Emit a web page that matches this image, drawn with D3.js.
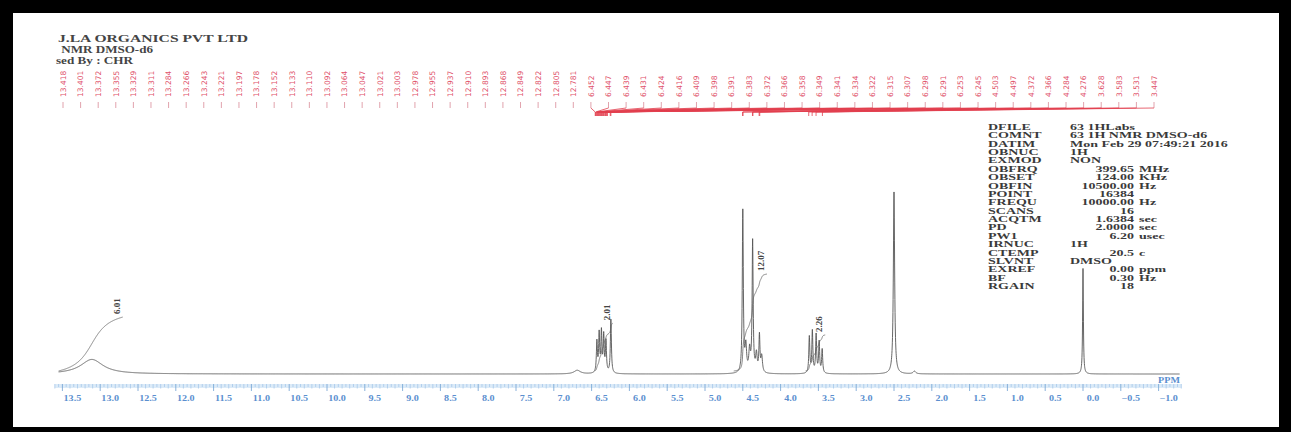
<!DOCTYPE html>
<html>
<head>
<meta charset="utf-8">
<script src="https://cdn.jsdelivr.net/npm/d3@7"></script>
<style>
  body { margin: 0; background: #000; }
  svg { display: block; }
</style>
</head>
<body>
<svg id="chart" width="1291" height="432"></svg>
<script>
// header printed on the scan
var headerLines = ["J.LA ORGANICS PVT LTD", " NMR DMSO-d6", "sed By : CHR"];

// peak list: shift (ppm), height (% of DMSO), half width (ppm)
var peakPpm    = [13.11, 6.69, 6.43, 6.40, 6.37, 6.34, 6.31, 6.245, 4.50, 4.46, 4.41, 4.37, 4.32, 4.28, 4.25, 3.62, 3.58, 3.53, 3.49, 3.45, 2.50, 2.23, 0.00];
var peakHeight = [8,     2,    17,   21,   22,   20,   17,   30,    89,   14,   12,   72,   10,   20,   9,    20,   23,   21,   17,   13,   100,  1.5,  58];
var peakWidth  = [0.18,  0.05, 0.008,0.008,0.008,0.008,0.008,0.008, 0.008,0.012,0.012,0.008,0.012,0.008,0.012,0.008,0.008,0.008,0.008,0.008,0.010,0.02, 0.006];

// integrated regions (from ppm, to ppm) and printed values
var integralFrom = [13.55, 6.46, 4.62, 3.67];
var integralTo   = [12.70, 6.22, 4.18, 3.41];
var integralText = ["6.01", "2.01", "12.07", "2.26"];

// picked peak labels along the top
var peakLabels = [
  "13.418","13.401","13.372","13.355","13.329","13.311","13.284","13.266","13.243","13.221",
  "13.197","13.178","13.152","13.133","13.110","13.092","13.064","13.047","13.021","13.003",
  "12.978","12.955","12.937","12.910","12.893","12.868","12.849","12.822","12.805","12.781",
  "6.452","6.447","6.439","6.431","6.424","6.416","6.409","6.398","6.391","6.383",
  "6.372","6.366","6.358","6.349","6.341","6.334","6.322","6.315","6.307","6.298",
  "6.291","6.253","6.245",
  "4.503","4.497","4.372","4.366","4.284","4.276",
  "3.628","3.583","3.531","3.447"
];

// acquisition parameter block
var paramNames  = ["DFILE","COMNT","DATIM","OBNUC","EXMOD","OBFRQ","OBSET","OBFIN","POINT","FREQU",
                   "SCANS","ACQTM","PD","PW1","IRNUC","CTEMP","SLVNT","EXREF","BF","RGAIN"];
var paramValues = ["63 1HLabs","63 1H NMR DMSO-d6","Mon Feb 29 07:49:21 2016","1H","NON","399.65","124.00","10500.00","16384","10000.00",
                   "16","1.6384","2.0000","6.20","1H","20.5","DMSO","0.00","0.30","18"];
var paramUnits  = ["","","","","","MHz","KHz","Hz","","Hz",
                   "","sec","sec","usec","","c","","ppm","Hz",""];

var W = 1291, H = 432;
var svg = d3.select("#chart");
var serif = "'Liberation Serif', 'DejaVu Serif', serif";
var stretch = 1.35;   // the scan is widened horizontally

// frame
svg.append("rect").attr("width", W).attr("height", H).attr("fill", "#000");
svg.append("rect").attr("x", 13).attr("y", 13).attr("width", 1266).attr("height", 414).attr("fill", "#fff");

var x = d3.scaleLinear().domain([13.5, -1.0]).range([62.4, 1158.6]);
var y = d3.scaleLinear().domain([0, 100]).range([374, 192]);

function intensity(p){
   var s = 0;
   for (var i = 0; i < peakPpm.length; i++){
      var w2 = peakWidth[i] * peakWidth[i];
      s += peakHeight[i] * w2 / ((p - peakPpm[i]) * (p - peakPpm[i]) + w2);
   }
   return s;
}

// header
var headerLen = [190, 95, 77];
var headerX = [58, 58, 56];
svg.selectAll("text.header")
   .data(headerLines)
   .enter()
   .append("text")
   .attr("class", "header")
   .attr("x", function(d, i){ return headerX[i]; })
   .attr("y", function(d, i){ return 42 + i * 11; })
   .attr("textLength", function(d, i){ return headerLen[i]; })
   .attr("lengthAdjust", "spacingAndGlyphs")
   .style("white-space", "pre")
   .attr("font-family", serif).attr("font-weight", "bold").attr("font-size", 9.5)
   .attr("fill", "#444")
   .text(function(d){ return d; });

// ruler axis
var ruler = svg.append("g");
ruler.append("rect")
   .attr("x", x(13.6)).attr("y", 384)
   .attr("width", x(-1.3) - x(13.6)).attr("height", 4)
   .attr("fill", "#dcebf8");
var tickIdx = d3.range(-26, 273);
ruler.selectAll("line")
   .data(tickIdx)
   .enter()
   .append("line")
   .attr("x1", function(d){ return x(d * 0.05); })
   .attr("x2", function(d){ return x(d * 0.05); })
   .attr("y1", 384)
   .attr("y2", function(d){ return d % 10 === 0 ? 391 : (d % 2 === 0 ? 388.5 : 387); })
   .attr("stroke", function(d){ return d % 10 === 0 ? "#6f9fd2" : "#a7c8ea"; })
   .attr("stroke-width", 0.8);
var fmt = d3.format(".1f");
ruler.selectAll("text")
   .data(d3.range(-2, 28).map(function(i){ return i * 0.5; }))
   .enter()
   .append("text")
   .attr("transform", function(d){ return "translate(" + (x(d) + 10) + ",401) scale(" + stretch + ",1)"; })
   .attr("text-anchor", "middle")
   .attr("font-family", serif).attr("font-weight", "bold").attr("font-size", 7.5)
   .attr("fill", "#5b8fcf")
   .text(function(d){ return fmt(d); });
ruler.append("text")
   .attr("transform", "translate(1180,383) scale(" + stretch + ",1)")
   .attr("text-anchor", "end")
   .attr("font-family", serif).attr("font-weight", "bold").attr("font-size", 7.5)
   .attr("fill", "#5b8fcf")
   .text("PPM");

// spectrum trace
var trace = d3.range(13.55, -1.28, -0.002).map(function(p){ return [p, intensity(p)]; });
svg.append("path")
   .datum(trace)
   .attr("d", d3.line().x(function(d){ return x(d[0]); }).y(function(d){ return y(d[1]); }))
   .attr("fill", "none")
   .attr("stroke", "#555")
   .attr("stroke-width", 0.9);

// integral curves
var integralPx = 16;
integralFrom.forEach(function(from, k){
   var cum = 0, pts = [];
   for (var p = from; p >= integralTo[k]; p -= 0.002){
      cum += intensity(p) * 0.002;
      pts.push([p, y(0) - 3 - cum * integralPx]);
   }
   svg.append("path")
      .datum(pts)
      .attr("d", d3.line().x(function(d){ return x(d[0]); }).y(function(d){ return d[1]; }))
      .attr("fill", "none")
      .attr("stroke", "#666")
      .attr("stroke-width", 0.8);
   var end = pts[pts.length - 1];
   svg.append("text")
      .attr("transform", "translate(" + (x(end[0]) - 3) + "," + (end[1] - 3) + ") rotate(-90)")
      .attr("font-family", serif).attr("font-weight", "bold").attr("font-size", 9)
      .attr("fill", "#444")
      .text(integralText[k]);
});

// peak labels, their ticks and leaders
var lx = d3.scalePoint().domain(d3.range(peakLabels.length)).range([63, 1154]);
var labels = svg.append("g");
labels.selectAll("text")
   .data(peakLabels)
   .enter()
   .append("text")
   .attr("transform", function(d, i){ return "translate(" + (lx(i) + 2.8) + ",97) rotate(-90)"; })
   .attr("font-family", "'DejaVu Sans', sans-serif").attr("font-size", 7.5)
   .attr("fill", "#e0506a")
   .text(function(d){ return d; });
labels.selectAll("line")
   .data(peakLabels)
   .enter()
   .append("line")
   .attr("x1", function(d, i){ return lx(i); })
   .attr("x2", function(d, i){ return lx(i); })
   .attr("y1", 102).attr("y2", 108)
   .attr("stroke", "#d98c98").attr("stroke-width", 0.8);
// leaders of the broad hump picks do not show in the scan, only the resolved ones
labels.selectAll("path")
   .data(peakLabels.filter(function(d){ return +d < 7; }))
   .enter()
   .append("path")
   .attr("d", function(d){
      var i = peakLabels.indexOf(d), px = x(+d);
      return "M" + lx(i) + ",108L" + px + ",112L" + px + ",116";
   })
   .attr("fill", "none")
   .attr("stroke", "#e2404f").attr("stroke-width", 0.8);

// parameter block
var pStretch = 1.75;
var rowY = d3.scalePoint().domain(d3.range(paramNames.length)).range([130, 289]);
var params = svg.append("g")
   .attr("font-family", serif).attr("font-weight", "bold").attr("font-size", 8)
   .attr("fill", "#3a3a3a");
paramNames.forEach(function(name, i){
   params.append("text")
      .attr("transform", "translate(988," + rowY(i) + ") scale(" + pStretch + ",1)")
      .text(name);
   var v = paramValues[i];
   var numeric = paramUnits[i] !== "" || /^[\d.]+$/.test(v);
   if (numeric){
      params.append("text")
         .attr("transform", "translate(1134," + rowY(i) + ") scale(" + pStretch + ",1)")
         .attr("text-anchor", "end")
         .text(v);
      if (paramUnits[i]){
         params.append("text")
            .attr("transform", "translate(1139," + rowY(i) + ") scale(" + pStretch + ",1)")
            .text(paramUnits[i]);
      }
   } else {
      params.append("text")
         .attr("transform", "translate(1070," + rowY(i) + ") scale(" + pStretch + ",1)")
         .text(v);
   }
});
</script>
</body>
</html>
